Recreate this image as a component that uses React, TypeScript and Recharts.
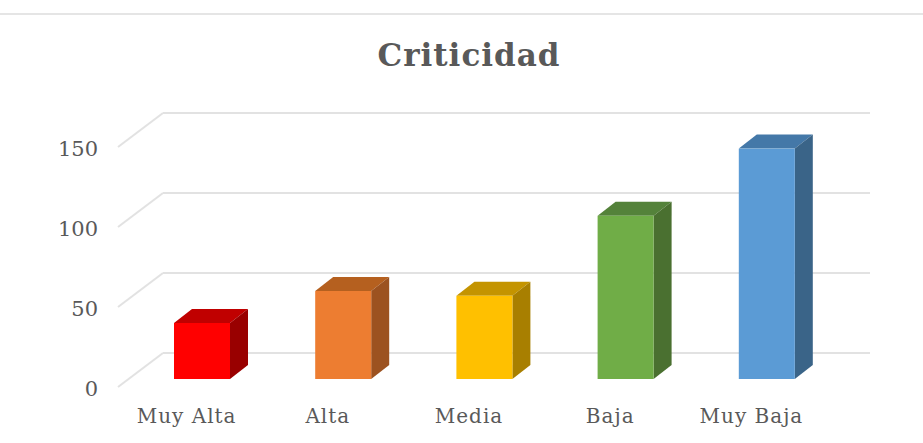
import React from "react";
import { BarChart, Bar, XAxis, YAxis, CartesianGrid } from "recharts";

const categories = ["Muy Alta", "Alta", "Media", "Baja", "Muy Baja"];
const values = [35, 55, 52, 102, 144];
const yTicks = [0, 50, 100, 150];
const title = "Criticidad";
const frontColors = ["#ff0000", "#ed7d31", "#ffc000", "#70ad47", "#5b9bd5"];
const topColors = ["#c00000", "#b5601f", "#c49400", "#54823a", "#4478a8"];
const sideColors = ["#990000", "#9c5220", "#a87f00", "#4a7030", "#3a6488"];

const rows = categories.map((name, i) => ({ name, value: values[i], i }));

const FONT = "'DejaVu Serif', serif";
const TEXT = "#595959";
const GRID = "#e2e2e2";
const DX = 18;
const DY = 14;

const Bar3D = (props: any) => {
  const { x, y, width, height, payload } = props;
  const i = payload.i;
  return (
    <g>
      <polygon
        points={`${x},${y} ${x + DX},${y - DY} ${x + width + DX},${y - DY} ${x + width},${y}`}
        fill={topColors[i]}
      />
      <polygon
        points={`${x + width},${y} ${x + width + DX},${y - DY} ${x + width + DX},${y + height - DY} ${x + width},${y + height}`}
        fill={sideColors[i]}
      />
      <rect x={x} y={y} width={width} height={height} fill={frontColors[i]} />
    </g>
  );
};

const gridLine = (props: any) => {
  const { y1, index } = props;
  return (
    <g key={index}>
      <line x1={118} y1={y1 + 8} x2={163} y2={y1 - 26} stroke={GRID} strokeWidth={2} />
      <line x1={163} y1={y1 - 26} x2={870} y2={y1 - 26} stroke={GRID} strokeWidth={2} />
    </g>
  );
};

const YTick = (props: any) => {
  const { y, payload } = props;
  return (
    <text x={98} y={y + 10} textAnchor="end" dominantBaseline="central" fontFamily={FONT} fontSize={21} fill={TEXT}>
      {payload.value}
    </text>
  );
};

const XTick = (props: any) => {
  const { x, payload } = props;
  return (
    <text x={x - 15} y={423} textAnchor="middle" fontFamily={FONT} fontSize={20} letterSpacing={1} fill={TEXT}>
      {payload.value}
    </text>
  );
};

export default function App() {
  return (
    <div style={{ position: "absolute", left: 0, top: 0, width: 923, height: 443, background: "#fff" }}>
      <div style={{ position: "absolute", left: 0, top: 13, width: 923, height: 2, background: "#e5e5e5" }} />
      <div
        style={{
          position: "absolute",
          left: 0,
          top: 36,
          width: 938,
          textAlign: "center",
          fontFamily: FONT,
          fontWeight: 700,
          fontSize: 31,
          letterSpacing: 1,
          lineHeight: "38px",
          color: TEXT,
        }}
      >
        {title}
      </div>
      <BarChart
        width={923}
        height={443}
        data={rows}
        margin={{ top: 139, right: 86, bottom: 24, left: 0 }}
        style={{ position: "absolute", left: 0, top: 0 }}
      >
        <CartesianGrid vertical={false} horizontalValues={yTicks} horizontal={gridLine} />
        <XAxis dataKey="name" axisLine={false} tickLine={false} tick={<XTick />} interval={0} height={40} />
        <YAxis
          domain={[0, 150]}
          ticks={yTicks}
          axisLine={false}
          tickLine={false}
          tick={<YTick />}
          width={131}
          interval={0}
        />
        <Bar dataKey="value" barSize={56} shape={<Bar3D />} isAnimationActive={false} />
      </BarChart>
    </div>
  );
}
